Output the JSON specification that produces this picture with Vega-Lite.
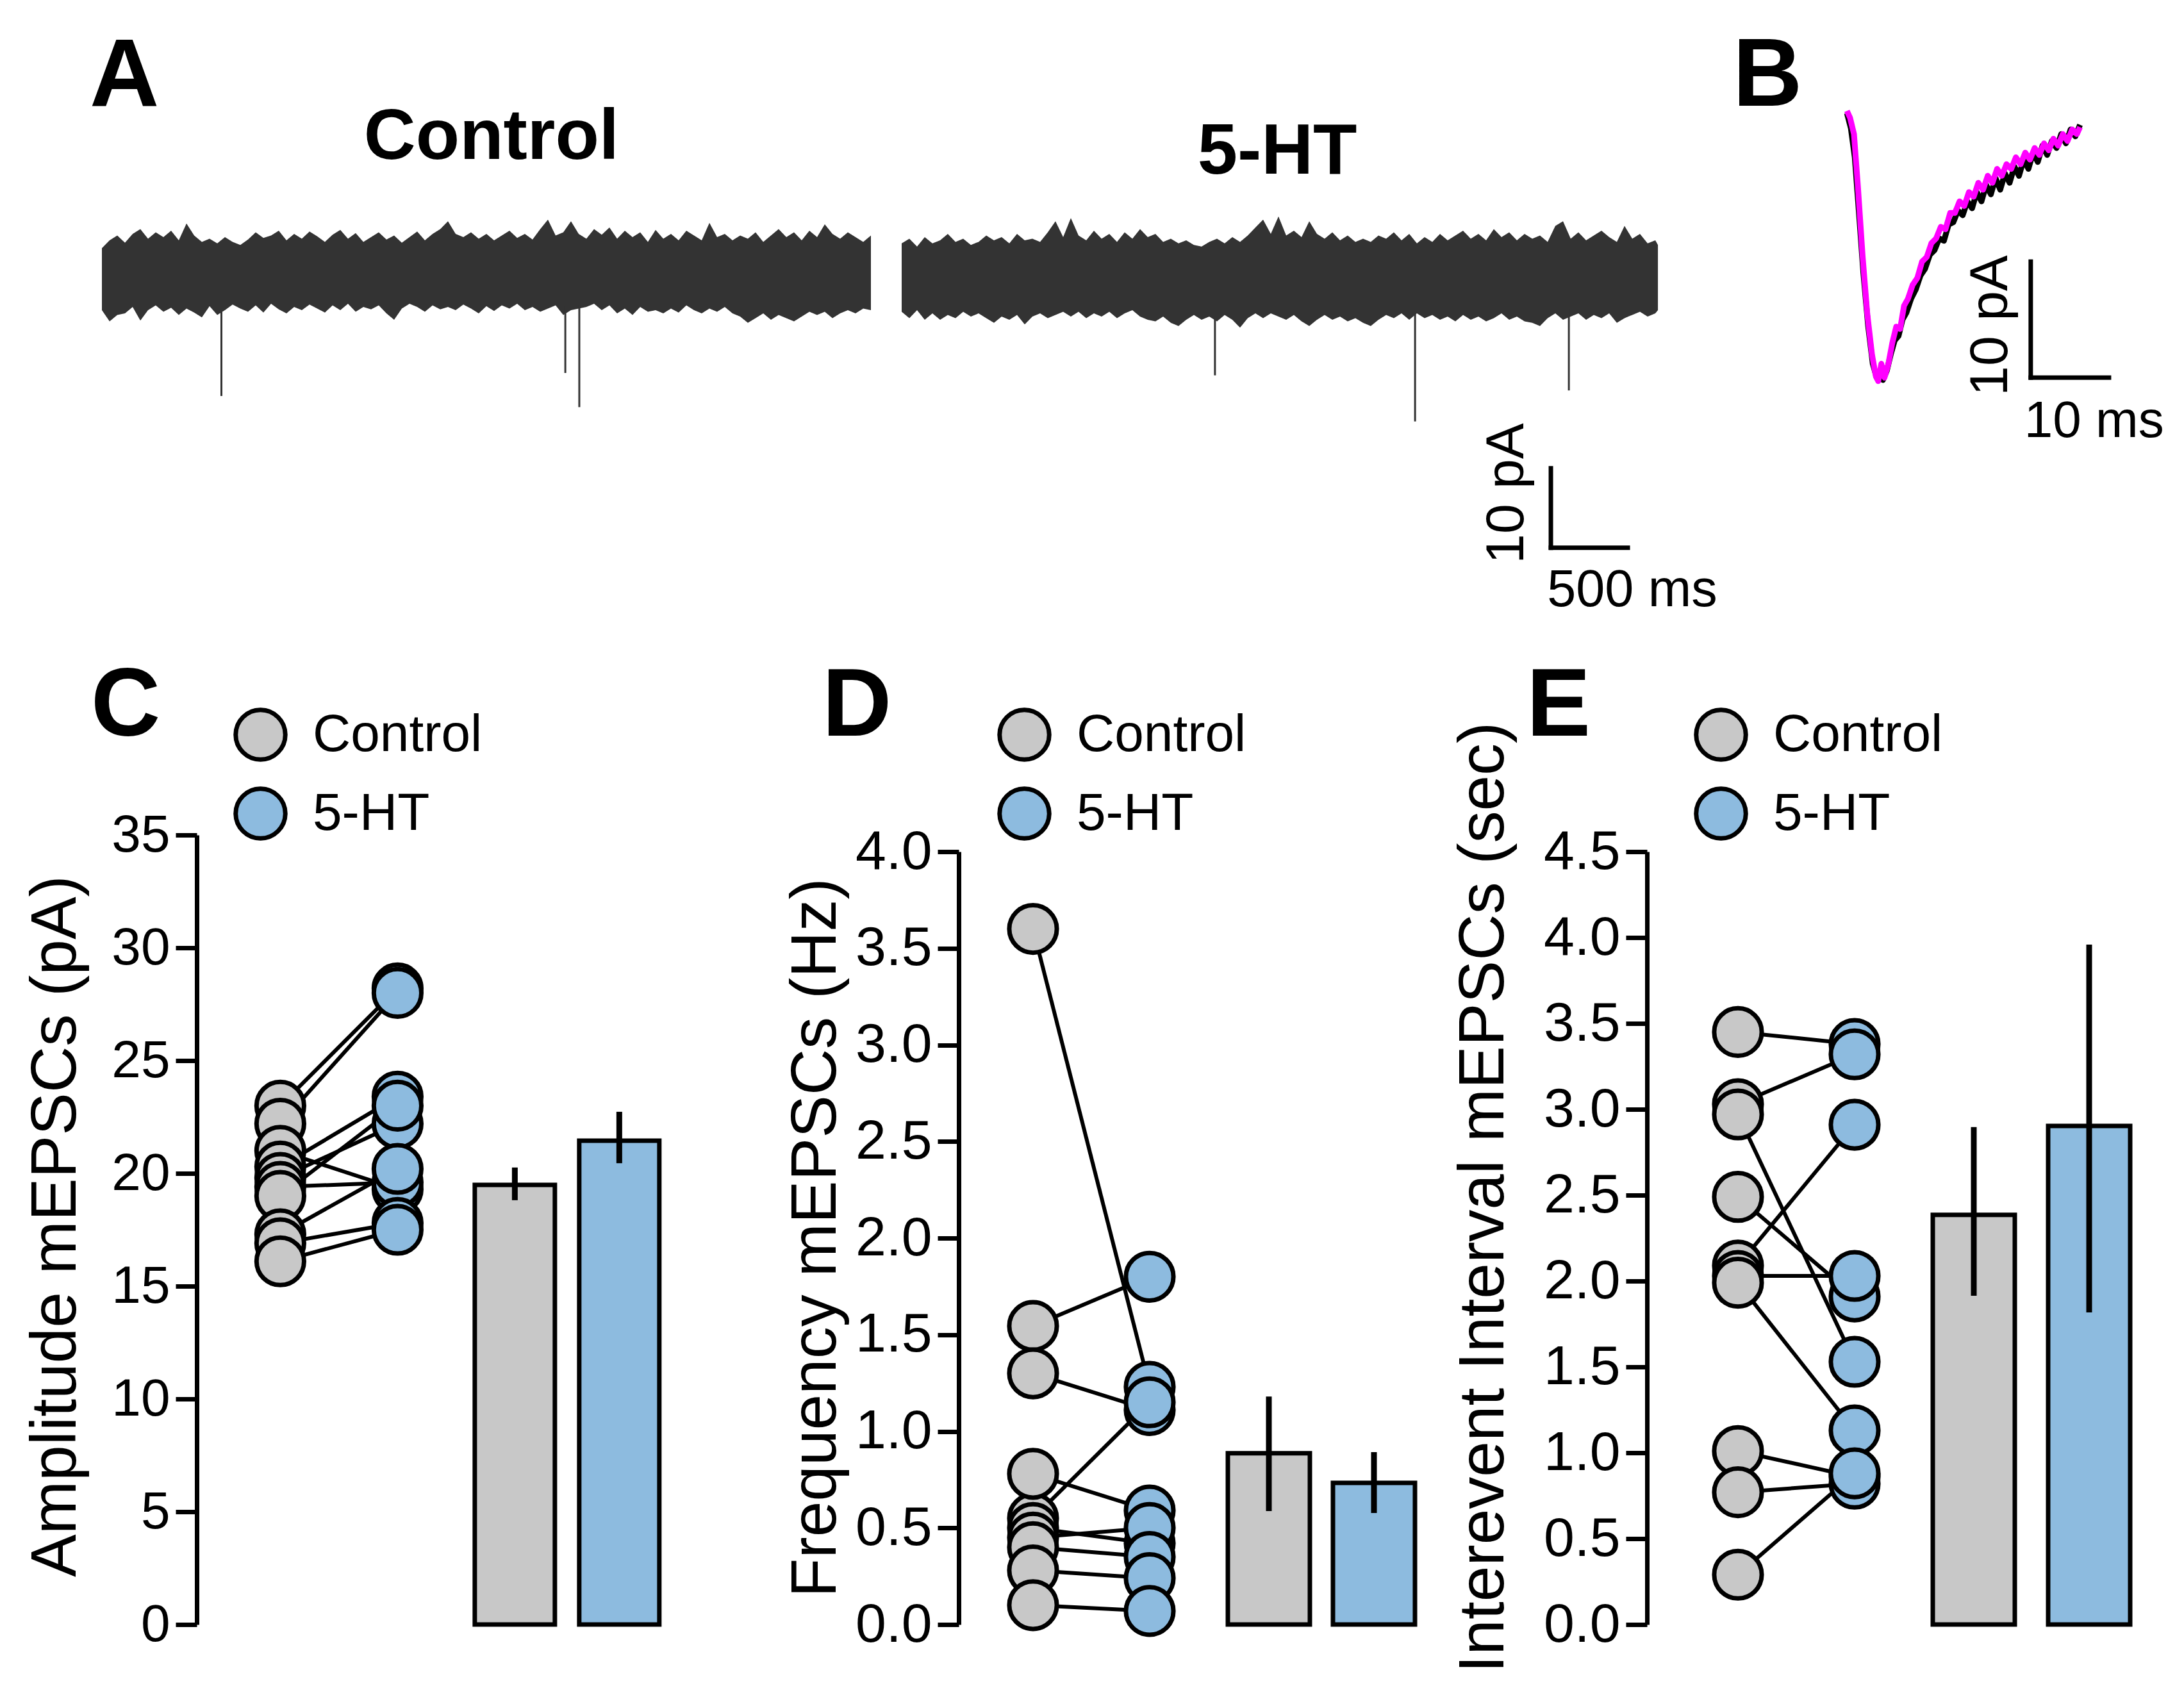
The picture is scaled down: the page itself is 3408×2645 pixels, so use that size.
{
  "$schema": "https://vega.github.io/schema/vega-lite/v6.json",
  "background": "white",
  "padding": {"left": 36, "top": 44, "right": 0, "bottom": 0},
  "config": {
    "view": {"stroke": null},
    "font": "Liberation Sans",
    "axis": {"labelFont": "Liberation Sans", "titleFont": "Liberation Sans", "labelColor": "black", "titleColor": "black", "tickColor": "black", "domainColor": "black", "grid": false, "tickWidth": 7, "domainWidth": 7, "tickSize": 33, "labelPadding": 9, "titleFontWeight": "normal", "titleFontSize": 100, "labelFontSize": 84, "titleLimit": 4000, "labelLimit": 1000, "labelFlush": false, "labelOverlap": false, "titleAngle": 270, "titleBaseline": "alphabetic", "titleAlign": "center"},
    "legend": {"labelFont": "Liberation Sans", "labelFontSize": 82, "labelColor": "black", "symbolType": "circle", "symbolSize": 6000, "symbolStrokeColor": "black", "symbolStrokeWidth": 7, "symbolOpacity": 1, "labelOffset": 39, "rowPadding": 16, "padding": 0, "labelLimit": 1000, "orient": "none", "direction": "vertical"},
    "title": {"font": "Liberation Sans", "color": "black"}
  },
  "resolve": {"scale": {"fill": "independent"}, "legend": {"fill": "independent"}},
  "datasets": {
    "ctrlTrace": [
      {"t":0,"lo":-4.6,"hi":3.2},{"t":50,"lo":-6.0,"hi":4.2},{"t":100,"lo":-5.2,"hi":4.8},{"t":150,"lo":-5.0,"hi":3.9},{"t":200,"lo":-4.2,"hi":5.0},{"t":250,"lo":-5.9,"hi":5.6},{"t":300,"lo":-4.6,"hi":4.4},{"t":350,"lo":-4.0,"hi":5.2},{"t":400,"lo":-4.8,"hi":4.6},{"t":450,"lo":-4.3,"hi":5.4},
      {"t":500,"lo":-5.2,"hi":4.2},{"t":550,"lo":-4.4,"hi":6.3},{"t":600,"lo":-4.9,"hi":4.8},{"t":650,"lo":-5.5,"hi":4.0},{"t":700,"lo":-4.1,"hi":4.4},{"t":750,"lo":-5.2,"hi":3.8},{"t":800,"lo":-4.6,"hi":4.6},{"t":850,"lo":-3.9,"hi":4.0},{"t":900,"lo":-4.4,"hi":3.6},{"t":950,"lo":-4.8,"hi":4.3},
      {"t":1000,"lo":-4.0,"hi":5.2},{"t":1050,"lo":-4.9,"hi":4.5},{"t":1100,"lo":-3.8,"hi":4.8},{"t":1150,"lo":-4.5,"hi":5.4},{"t":1200,"lo":-5.0,"hi":4.2},{"t":1250,"lo":-4.2,"hi":5.0},{"t":1300,"lo":-4.6,"hi":4.4},{"t":1350,"lo":-3.9,"hi":5.3},{"t":1400,"lo":-4.4,"hi":4.7},{"t":1450,"lo":-4.9,"hi":4.0},
      {"t":1500,"lo":-4.0,"hi":4.9},{"t":1550,"lo":-4.6,"hi":5.5},{"t":1600,"lo":-3.8,"hi":4.4},{"t":1650,"lo":-4.8,"hi":5.1},{"t":1700,"lo":-4.2,"hi":4.0},{"t":1750,"lo":-4.5,"hi":4.6},{"t":1800,"lo":-4.0,"hi":5.2},{"t":1850,"lo":-5.0,"hi":4.3},{"t":1900,"lo":-5.8,"hi":4.8},{"t":1950,"lo":-4.4,"hi":3.9},
      {"t":2000,"lo":-3.8,"hi":4.6},{"t":2050,"lo":-4.2,"hi":5.3},{"t":2100,"lo":-4.8,"hi":4.2},{"t":2150,"lo":-4.0,"hi":5.0},{"t":2200,"lo":-4.5,"hi":5.6},{"t":2250,"lo":-4.2,"hi":6.6},{"t":2300,"lo":-4.6,"hi":5.0},{"t":2350,"lo":-3.9,"hi":4.6},{"t":2400,"lo":-4.4,"hi":5.2},{"t":2450,"lo":-5.0,"hi":4.4},
      {"t":2500,"lo":-4.1,"hi":5.0},{"t":2550,"lo":-4.7,"hi":4.2},{"t":2600,"lo":-4.0,"hi":4.8},{"t":2650,"lo":-4.4,"hi":5.4},{"t":2700,"lo":-3.8,"hi":4.5},{"t":2750,"lo":-4.6,"hi":5.0},{"t":2800,"lo":-4.2,"hi":4.3},{"t":2850,"lo":-4.8,"hi":5.6},{"t":2900,"lo":-4.4,"hi":6.8},{"t":2950,"lo":-4.0,"hi":4.8},
      {"t":3000,"lo":-5.2,"hi":5.2},{"t":3050,"lo":-4.6,"hi":6.6},{"t":3100,"lo":-4.4,"hi":5.0},{"t":3150,"lo":-4.2,"hi":4.4},{"t":3200,"lo":-3.8,"hi":5.6},{"t":3250,"lo":-4.6,"hi":4.9},{"t":3300,"lo":-4.0,"hi":5.8},{"t":3350,"lo":-5.0,"hi":4.4},{"t":3400,"lo":-4.4,"hi":5.4},{"t":3450,"lo":-5.2,"hi":4.6},
      {"t":3500,"lo":-4.2,"hi":5.2},{"t":3550,"lo":-4.8,"hi":4.0},{"t":3600,"lo":-4.6,"hi":5.5},{"t":3650,"lo":-5.0,"hi":4.4},{"t":3700,"lo":-4.4,"hi":5.0},{"t":3750,"lo":-4.9,"hi":4.2},{"t":3800,"lo":-4.0,"hi":5.4},{"t":3850,"lo":-4.6,"hi":4.8},{"t":3900,"lo":-5.0,"hi":4.2},{"t":3950,"lo":-4.4,"hi":6.4},
      {"t":4000,"lo":-4.8,"hi":4.6},{"t":4050,"lo":-4.2,"hi":5.0},{"t":4100,"lo":-5.0,"hi":4.2},{"t":4150,"lo":-5.4,"hi":4.8},{"t":4200,"lo":-6.2,"hi":4.4},{"t":4250,"lo":-5.6,"hi":5.2},{"t":4300,"lo":-5.0,"hi":4.0},{"t":4350,"lo":-5.8,"hi":4.8},{"t":4400,"lo":-5.2,"hi":5.6},{"t":4450,"lo":-5.6,"hi":4.6},
      {"t":4500,"lo":-6.0,"hi":5.2},{"t":4550,"lo":-5.4,"hi":4.2},{"t":4600,"lo":-4.8,"hi":5.4},{"t":4650,"lo":-5.2,"hi":4.6},{"t":4700,"lo":-4.8,"hi":6.2},{"t":4750,"lo":-5.6,"hi":5.0},{"t":4800,"lo":-5.0,"hi":4.4},{"t":4850,"lo":-4.6,"hi":5.2},{"t":4900,"lo":-5.0,"hi":4.6},{"t":4950,"lo":-4.4,"hi":4.0},
      {"t":5000,"lo":-4.6,"hi":4.8}
    ],
    "htTrace": [
      {"t":0,"lo":-4.8,"hi":3.8},{"t":50,"lo":-5.6,"hi":4.4},{"t":100,"lo":-4.6,"hi":3.4},{"t":150,"lo":-5.8,"hi":4.6},{"t":200,"lo":-5.0,"hi":3.8},{"t":250,"lo":-5.8,"hi":4.2},{"t":300,"lo":-5.2,"hi":5.0},{"t":350,"lo":-5.6,"hi":4.0},{"t":400,"lo":-4.8,"hi":4.4},{"t":450,"lo":-5.4,"hi":3.6},
      {"t":500,"lo":-5.0,"hi":4.0},{"t":550,"lo":-5.6,"hi":4.8},{"t":600,"lo":-6.2,"hi":4.2},{"t":650,"lo":-5.4,"hi":4.6},{"t":700,"lo":-5.8,"hi":3.8},{"t":750,"lo":-5.2,"hi":5.0},{"t":800,"lo":-6.4,"hi":4.2},{"t":850,"lo":-5.4,"hi":4.4},{"t":900,"lo":-5.0,"hi":4.0},{"t":950,"lo":-5.6,"hi":5.2},
      {"t":1000,"lo":-5.2,"hi":6.6},{"t":1050,"lo":-4.8,"hi":4.6},{"t":1100,"lo":-5.4,"hi":7.0},{"t":1150,"lo":-4.8,"hi":4.8},{"t":1200,"lo":-5.6,"hi":4.2},{"t":1250,"lo":-5.0,"hi":5.4},{"t":1300,"lo":-5.4,"hi":4.4},{"t":1350,"lo":-4.8,"hi":5.0},{"t":1400,"lo":-5.6,"hi":4.0},{"t":1450,"lo":-5.0,"hi":5.2},
      {"t":1500,"lo":-4.6,"hi":4.4},{"t":1550,"lo":-5.4,"hi":5.6},{"t":1600,"lo":-5.8,"hi":4.6},{"t":1650,"lo":-6.0,"hi":5.0},{"t":1700,"lo":-5.4,"hi":4.0},{"t":1750,"lo":-6.2,"hi":4.4},{"t":1800,"lo":-6.6,"hi":3.8},{"t":1850,"lo":-5.8,"hi":4.2},{"t":1900,"lo":-5.2,"hi":3.6},{"t":1950,"lo":-5.8,"hi":3.4},
      {"t":2000,"lo":-5.4,"hi":4.0},{"t":2050,"lo":-6.0,"hi":4.4},{"t":2100,"lo":-5.2,"hi":3.8},{"t":2150,"lo":-5.8,"hi":4.6},{"t":2200,"lo":-6.8,"hi":4.0},{"t":2250,"lo":-5.6,"hi":4.8},{"t":2300,"lo":-5.0,"hi":5.8},{"t":2350,"lo":-5.6,"hi":6.8},{"t":2400,"lo":-5.0,"hi":5.0},{"t":2450,"lo":-5.4,"hi":7.2},
      {"t":2500,"lo":-5.8,"hi":4.8},{"t":2550,"lo":-5.2,"hi":5.4},{"t":2600,"lo":-6.0,"hi":4.6},{"t":2650,"lo":-6.6,"hi":6.6},{"t":2700,"lo":-5.8,"hi":5.0},{"t":2750,"lo":-5.2,"hi":4.4},{"t":2800,"lo":-5.8,"hi":5.2},{"t":2850,"lo":-5.4,"hi":4.2},{"t":2900,"lo":-6.0,"hi":4.8},{"t":2950,"lo":-5.6,"hi":4.0},
      {"t":3000,"lo":-6.2,"hi":4.4},{"t":3050,"lo":-6.6,"hi":4.0},{"t":3100,"lo":-5.8,"hi":4.8},{"t":3150,"lo":-5.2,"hi":4.4},{"t":3200,"lo":-5.6,"hi":5.2},{"t":3250,"lo":-5.0,"hi":4.2},{"t":3300,"lo":-5.8,"hi":5.0},{"t":3350,"lo":-5.0,"hi":3.8},{"t":3400,"lo":-5.6,"hi":4.6},{"t":3450,"lo":-5.2,"hi":4.0},
      {"t":3500,"lo":-5.8,"hi":5.0},{"t":3550,"lo":-5.4,"hi":4.2},{"t":3600,"lo":-6.0,"hi":4.8},{"t":3650,"lo":-5.2,"hi":5.4},{"t":3700,"lo":-5.8,"hi":4.4},{"t":3750,"lo":-5.4,"hi":5.0},{"t":3800,"lo":-6.0,"hi":4.2},{"t":3850,"lo":-5.6,"hi":5.6},{"t":3900,"lo":-5.0,"hi":4.6},{"t":3950,"lo":-5.8,"hi":5.2},
      {"t":4000,"lo":-5.4,"hi":4.2},{"t":4050,"lo":-6.0,"hi":5.0},{"t":4100,"lo":-6.2,"hi":4.4},{"t":4150,"lo":-6.6,"hi":4.8},{"t":4200,"lo":-5.6,"hi":4.0},{"t":4250,"lo":-5.0,"hi":6.0},{"t":4300,"lo":-5.8,"hi":6.6},{"t":4350,"lo":-5.4,"hi":4.4},{"t":4400,"lo":-5.0,"hi":5.2},{"t":4450,"lo":-5.8,"hi":4.2},
      {"t":4500,"lo":-5.2,"hi":4.8},{"t":4550,"lo":-5.6,"hi":5.4},{"t":4600,"lo":-5.0,"hi":4.6},{"t":4650,"lo":-6.2,"hi":4.0},{"t":4700,"lo":-5.6,"hi":6.0},{"t":4750,"lo":-5.2,"hi":4.4},{"t":4800,"lo":-4.8,"hi":5.0},{"t":4850,"lo":-5.4,"hi":3.8},{"t":4900,"lo":-5.0,"hi":4.2},{"t":4917,"lo":-4.6,"hi":3.6}
    ],
    "ctrlSpikes": [
      {"t":777,"v0":-4,"v1":-15.4},{"t":3013,"v0":-4,"v1":-12.5},{"t":3104,"v0":-4,"v1":-16.8}
    ],
    "htSpikes": [
      {"t":2037,"v0":-4.5,"v1":-12.8},{"t":3338,"v0":-4.5,"v1":-18.6},{"t":4338,"v0":-4.5,"v1":-14.7}
    ],
    "bCtrl": [
      {"t":0,"v":-0.2},{"t":0.5,"v":-1.5},{"t":1.0,"v":-4.0},{"t":1.5,"v":-8.5},{"t":2.1,"v":-14.0},{"t":2.7,"v":-18.5},{"t":3.3,"v":-21.8},{"t":3.8,"v":-23.0},{"t":4.2,"v":-22.5},{"t":4.6,"v":-23.2},
      {"t":5.1,"v":-22.4},{"t":5.6,"v":-21.0},{"t":6.1,"v":-19.8},{"t":6.6,"v":-19.4},{"t":7.1,"v":-18.0},{"t":7.6,"v":-17.4},{"t":8.2,"v":-16.2},{"t":8.8,"v":-15.4},{"t":9.4,"v":-14.2},{"t":10.0,"v":-13.6},
      {"t":10.6,"v":-12.4},{"t":11.2,"v":-12.0},{"t":11.8,"v":-11.0},{"t":12.4,"v":-11.2},{"t":13.0,"v":-9.8},{"t":13.6,"v":-9.6},{"t":14.2,"v":-8.6},{"t":14.8,"v":-9.0},{"t":15.4,"v":-7.8},{"t":16.0,"v":-8.4},
      {"t":16.6,"v":-7.0},{"t":17.2,"v":-7.8},{"t":17.8,"v":-6.4},{"t":18.4,"v":-7.2},{"t":19.0,"v":-5.8},{"t":19.6,"v":-6.8},{"t":20.2,"v":-5.4},{"t":20.8,"v":-6.2},{"t":21.4,"v":-4.8},{"t":22.0,"v":-5.6},
      {"t":22.6,"v":-4.2},{"t":23.2,"v":-5.0},{"t":23.8,"v":-3.6},{"t":24.4,"v":-4.4},{"t":25.0,"v":-3.0},{"t":25.6,"v":-3.8},{"t":26.2,"v":-2.6},{"t":26.8,"v":-3.2},{"t":27.4,"v":-2.0},{"t":28.0,"v":-2.8},
      {"t":28.6,"v":-1.6},{"t":29.2,"v":-2.2},{"t":29.8,"v":-1.2}
    ],
    "bHT": [
      {"t":0,"v":0},{"t":0.4,"v":-0.6},{"t":0.9,"v":-2.0},{"t":1.4,"v":-6.5},{"t":2.0,"v":-12.5},{"t":2.6,"v":-17.5},{"t":3.2,"v":-21.0},{"t":3.7,"v":-22.9},{"t":4.0,"v":-23.3},{"t":4.4,"v":-21.8},
      {"t":4.8,"v":-23.0},{"t":5.3,"v":-21.8},{"t":5.8,"v":-20.0},{"t":6.3,"v":-18.6},{"t":6.8,"v":-18.8},{"t":7.3,"v":-16.8},{"t":7.8,"v":-16.2},{"t":8.4,"v":-15.0},{"t":9.0,"v":-14.4},{"t":9.6,"v":-13.0},
      {"t":10.2,"v":-12.6},{"t":10.8,"v":-11.4},{"t":11.4,"v":-11.0},{"t":12.0,"v":-10.0},{"t":12.6,"v":-10.2},{"t":13.2,"v":-8.8},{"t":13.8,"v":-8.8},{"t":14.4,"v":-7.8},{"t":15.0,"v":-8.2},{"t":15.6,"v":-7.0},
      {"t":16.2,"v":-7.4},{"t":16.8,"v":-6.2},{"t":17.4,"v":-6.8},{"t":18.0,"v":-5.6},{"t":18.6,"v":-6.2},{"t":19.2,"v":-5.0},{"t":19.8,"v":-5.6},{"t":20.4,"v":-4.6},{"t":21.0,"v":-5.0},{"t":21.6,"v":-4.0},
      {"t":22.2,"v":-4.6},{"t":22.8,"v":-3.6},{"t":23.4,"v":-4.2},{"t":24.0,"v":-3.2},{"t":24.6,"v":-3.8},{"t":25.2,"v":-2.8},{"t":25.8,"v":-3.4},{"t":26.4,"v":-2.4},{"t":27.0,"v":-3.0},{"t":27.6,"v":-2.0},
      {"t":28.2,"v":-2.6},{"t":28.8,"v":-1.6},{"t":29.4,"v":-2.0},{"t":29.8,"v":-1.4}
    ],
    "ampPairs": [
      {"kind":"cells","cell":1,"cond":"Control","value":23.0},{"kind":"cells","cell":1,"cond":"5-HT","value":28.2},
      {"kind":"cells","cell":2,"cond":"Control","value":22.2},{"kind":"cells","cell":2,"cond":"5-HT","value":28.0},
      {"kind":"cells","cell":3,"cond":"Control","value":21.0},{"kind":"cells","cell":3,"cond":"5-HT","value":19.3},
      {"kind":"cells","cell":4,"cond":"Control","value":20.3},{"kind":"cells","cell":4,"cond":"5-HT","value":23.4},
      {"kind":"cells","cell":5,"cond":"Control","value":19.8},{"kind":"cells","cell":5,"cond":"5-HT","value":22.2},
      {"kind":"cells","cell":6,"cond":"Control","value":19.4},{"kind":"cells","cell":6,"cond":"5-HT","value":19.6},
      {"kind":"cells","cell":7,"cond":"Control","value":19.0},{"kind":"cells","cell":7,"cond":"5-HT","value":23.0},
      {"kind":"cells","cell":8,"cond":"Control","value":17.3},{"kind":"cells","cell":8,"cond":"5-HT","value":20.2},
      {"kind":"cells","cell":9,"cond":"Control","value":16.9},{"kind":"cells","cell":9,"cond":"5-HT","value":17.8},
      {"kind":"cells","cell":10,"cond":"Control","value":16.1},{"kind":"cells","cell":10,"cond":"5-HT","value":17.5}
    ],
    "ampBars": [
      {"kind":"mean","cond":"Control","mean":19.49,"lo":18.81,"hi":20.26},
      {"kind":"mean","cond":"5-HT","mean":21.45,"lo":20.45,"hi":22.73}
    ],
    "freqPairs": [
      {"kind":"cells","cell":1,"cond":"Control","value":3.60},{"kind":"cells","cell":1,"cond":"5-HT","value":1.23},
      {"kind":"cells","cell":2,"cond":"Control","value":1.545},{"kind":"cells","cell":2,"cond":"5-HT","value":1.80},
      {"kind":"cells","cell":3,"cond":"Control","value":1.30},{"kind":"cells","cell":3,"cond":"5-HT","value":1.11},
      {"kind":"cells","cell":4,"cond":"Control","value":0.55},{"kind":"cells","cell":4,"cond":"5-HT","value":1.15},
      {"kind":"cells","cell":5,"cond":"Control","value":0.78},{"kind":"cells","cell":5,"cond":"5-HT","value":0.59},
      {"kind":"cells","cell":6,"cond":"Control","value":0.50},{"kind":"cells","cell":6,"cond":"5-HT","value":0.42},
      {"kind":"cells","cell":7,"cond":"Control","value":0.45},{"kind":"cells","cell":7,"cond":"5-HT","value":0.50},
      {"kind":"cells","cell":8,"cond":"Control","value":0.40},{"kind":"cells","cell":8,"cond":"5-HT","value":0.35},
      {"kind":"cells","cell":9,"cond":"Control","value":0.28},{"kind":"cells","cell":9,"cond":"5-HT","value":0.24},
      {"kind":"cells","cell":10,"cond":"Control","value":0.10},{"kind":"cells","cell":10,"cond":"5-HT","value":0.07}
    ],
    "freqBars": [
      {"kind":"mean","cond":"Control","mean":0.886,"lo":0.587,"hi":1.18},
      {"kind":"mean","cond":"5-HT","mean":0.733,"lo":0.577,"hi":0.892}
    ],
    "iiPairs": [
      {"kind":"cells","cell":1,"cond":"Control","value":3.45},{"kind":"cells","cell":1,"cond":"5-HT","value":3.38},
      {"kind":"cells","cell":2,"cond":"Control","value":3.03},{"kind":"cells","cell":2,"cond":"5-HT","value":3.32},
      {"kind":"cells","cell":3,"cond":"Control","value":2.09},{"kind":"cells","cell":3,"cond":"5-HT","value":2.91},
      {"kind":"cells","cell":4,"cond":"Control","value":2.97},{"kind":"cells","cell":4,"cond":"5-HT","value":1.53},
      {"kind":"cells","cell":5,"cond":"Control","value":2.49},{"kind":"cells","cell":5,"cond":"5-HT","value":1.91},
      {"kind":"cells","cell":6,"cond":"Control","value":2.03},{"kind":"cells","cell":6,"cond":"5-HT","value":2.03},
      {"kind":"cells","cell":7,"cond":"Control","value":1.99},{"kind":"cells","cell":7,"cond":"5-HT","value":1.13},
      {"kind":"cells","cell":8,"cond":"Control","value":1.01},{"kind":"cells","cell":8,"cond":"5-HT","value":0.86},
      {"kind":"cells","cell":9,"cond":"Control","value":0.77},{"kind":"cells","cell":9,"cond":"5-HT","value":0.82},
      {"kind":"cells","cell":10,"cond":"Control","value":0.29},{"kind":"cells","cell":10,"cond":"5-HT","value":0.88}
    ],
    "iiBars": [
      {"kind":"mean","cond":"Control","mean":2.385,"lo":1.914,"hi":2.896},
      {"kind":"mean","cond":"5-HT","mean":2.903,"lo":1.817,"hi":3.959}
    ]
  },
  "columns": 3,
  "align": "each",
  "bounds": "flush",
  "spacing": {"row": 430, "column": 0},
  "concat": [
    {
      "width": 1248, "height": 710,
      "layer": [
        {"data": {"name": "ctrlTrace"}, "mark": {"type": "area", "color": "#333333", "opacity": 1},
         "encoding": {"x": {"field": "t", "type": "quantitative", "scale": {"domain": [0, 5200], "nice": false, "zero": false}, "axis": null},
                      "y": {"field": "lo", "type": "quantitative", "scale": {"domain": [-35.97, 21.29], "nice": false, "zero": false}, "axis": null},
                      "y2": {"field": "hi"}}},
        {"data": {"name": "ctrlSpikes"}, "mark": {"type": "rule", "color": "#333333", "strokeWidth": 3},
         "encoding": {"x": {"field": "t", "type": "quantitative"}, "y": {"field": "v0", "type": "quantitative"}, "y2": {"field": "v1"}}},
        {"data": {"values": [{"label": "Control"}]}, "mark": {"type": "text", "fontSize": 112, "fontWeight": "bold", "align": "center", "baseline": "alphabetic", "color": "black"},
         "encoding": {"x": {"datum": 2533}, "y": {"datum": 14.4}, "text": {"field": "label"}}},
        {"data": {"values": [{"label": "A"}]}, "mark": {"type": "text", "fontSize": 150, "fontWeight": "bold", "align": "left", "baseline": "alphabetic", "color": "black"},
         "encoding": {"x": {"datum": -79}, "y": {"datum": 21.13}, "text": {"field": "label"}}}
      ]
    },
    {
      "width": 1163, "height": 710,
      "layer": [
        {"data": {"name": "htTrace"}, "mark": {"type": "area", "color": "#333333", "opacity": 1},
         "encoding": {"x": {"field": "t", "type": "quantitative", "scale": {"domain": [0, 4845.8], "nice": false, "zero": false}, "axis": null},
                      "y": {"field": "lo", "type": "quantitative", "scale": {"domain": [-35.97, 21.29], "nice": false, "zero": false}, "axis": null},
                      "y2": {"field": "hi"}}},
        {"data": {"name": "htSpikes"}, "mark": {"type": "rule", "color": "#333333", "strokeWidth": 3},
         "encoding": {"x": {"field": "t", "type": "quantitative"}, "y": {"field": "v0", "type": "quantitative"}, "y2": {"field": "v1"}}},
        {"data": {"values": [{"label": "5-HT"}]}, "mark": {"type": "text", "fontSize": 112, "fontWeight": "bold", "align": "center", "baseline": "alphabetic", "color": "black"},
         "encoding": {"x": {"datum": 2442}, "y": {"datum": 12.58}, "text": {"field": "label"}}},
        {"data": {"values": [{}]}, "mark": {"type": "rule", "color": "black", "strokeWidth": 7, "strokeCap": "square"},
         "encoding": {"x": {"datum": 4221}, "y": {"datum": -24.5}, "y2": {"datum": -34.5}}},
        {"data": {"values": [{}]}, "mark": {"type": "rule", "color": "black", "strokeWidth": 7, "strokeCap": "square"},
         "encoding": {"x": {"datum": 4221}, "x2": {"datum": 4721}, "y": {"datum": -34.5}}},
        {"data": {"values": [{"label": "10 pA"}]}, "mark": {"type": "text", "fontSize": 84, "angle": 270, "align": "center", "baseline": "alphabetic", "color": "black"},
         "encoding": {"x": {"datum": 4042}, "y": {"datum": -27.66}, "text": {"field": "label"}}},
        {"data": {"values": [{"label": "500 ms"}]}, "mark": {"type": "text", "fontSize": 81, "align": "center", "baseline": "alphabetic", "color": "black"},
         "encoding": {"x": {"datum": 4750}, "y": {"datum": -41.85}, "text": {"field": "label"}}}
      ]
    },
    {
      "width": 727, "height": 710,
      "layer": [
        {"data": {"name": "bCtrl"}, "mark": {"type": "line", "color": "#000000", "strokeWidth": 9, "strokeJoin": "round"},
         "encoding": {"x": {"field": "t", "type": "quantitative", "scale": {"domain": [-25.57, 34], "nice": false, "zero": false}, "axis": null},
                      "y": {"field": "v", "type": "quantitative", "scale": {"domain": [-38.67, 0.552], "nice": false, "zero": false}, "axis": null}}},
        {"data": {"name": "bHT"}, "mark": {"type": "line", "color": "#ff00ff", "strokeWidth": 9, "strokeJoin": "round"},
         "encoding": {"x": {"field": "t", "type": "quantitative"}, "y": {"field": "v", "type": "quantitative"}}},
        {"data": {"values": [{}]}, "mark": {"type": "rule", "color": "black", "strokeWidth": 7, "strokeCap": "square"},
         "encoding": {"x": {"datum": 23.5}, "y": {"datum": -13.0}, "y2": {"datum": -23.0}}},
        {"data": {"values": [{}]}, "mark": {"type": "rule", "color": "black", "strokeWidth": 7, "strokeCap": "square"},
         "encoding": {"x": {"datum": 23.5}, "x2": {"datum": 33.5}, "y": {"datum": -23.0}}},
        {"data": {"values": [{"label": "10 pA"}]}, "mark": {"type": "text", "fontSize": 84, "angle": 270, "align": "center", "baseline": "alphabetic", "color": "black"},
         "encoding": {"x": {"datum": 20.5}, "y": {"datum": -18.5}, "text": {"field": "label"}}},
        {"data": {"values": [{"label": "10 ms"}]}, "mark": {"type": "text", "fontSize": 80, "align": "center", "baseline": "alphabetic", "color": "black"},
         "encoding": {"x": {"datum": 31.6}, "y": {"datum": -28.1}, "text": {"field": "label"}}},
        {"data": {"values": [{"label": "B"}]}, "mark": {"type": "text", "fontSize": 150, "fontWeight": "bold", "align": "left", "baseline": "alphabetic", "color": "black"},
         "encoding": {"x": {"datum": -14.6}, "y": {"datum": 0.44}, "text": {"field": "label"}}}
      ]
    },
    {
      "width": 1248, "height": 1232,
      "title": {"text": "C", "anchor": "start", "frame": "group", "fontSize": 150, "fontWeight": "bold", "color": "black", "offset": 0, "dx": -17, "dy": 194, "baseline": "alphabetic"},
      "layer": [
        {"data": {"name": "ampPairs"},
         "layer": [
           {"mark": {"type": "line", "color": "black", "strokeWidth": 6},
            "encoding": {"x": {"field": "kind", "type": "nominal", "scale": {"type": "band", "domain": ["cells", "mean"], "paddingInner": 0, "paddingOuter": 0.753, "align": 0.358, "round": false}, "axis": null},
                         "xOffset": {"field": "cond", "type": "nominal", "scale": {"type": "band", "domain": ["Control", "5-HT"], "paddingInner": 0.055, "paddingOuter": 0, "round": false}},
                         "y": {"field": "value", "type": "quantitative", "scale": {"domain": [0, 35], "nice": false, "zero": true},
                               "axis": {"values": [0, 5, 10, 15, 20, 25, 30, 35], "title": "Amplitude mEPSCs (pA)", "offset": -148, "titleX": -190, "titleY": 610, "labelFontSize": 82}},
                         "detail": {"field": "cell", "type": "nominal"}}},
           {"mark": {"type": "circle", "size": 5500, "stroke": "black", "strokeWidth": 7, "opacity": 1},
            "encoding": {"x": {"field": "kind", "type": "nominal"},
                         "xOffset": {"field": "cond", "type": "nominal"},
                         "y": {"field": "value", "type": "quantitative"},
                         "fill": {"field": "cond", "type": "nominal", "scale": {"domain": ["Control", "5-HT"], "range": ["#c8c8c8", "#8dbbdf"]},
                                  "legend": {"title": null, "orient": "none", "legendX": 205, "legendY": -199, "symbolType": "circle"}}}}
         ]},
        {"data": {"name": "ampBars"},
         "layer": [
           {"mark": {"type": "bar", "stroke": "black", "strokeWidth": 7},
            "encoding": {"x": {"field": "kind", "type": "nominal"},
                         "xOffset": {"field": "cond", "type": "nominal", "scale": {"type": "band", "domain": ["Control", "5-HT"], "paddingInner": 0.2331, "paddingOuter": 0.2086, "round": false}},
                         "y": {"field": "mean", "type": "quantitative"},
                         "fill": {"field": "cond", "type": "nominal", "legend": {"title": null, "orient": "none", "legendX": 205, "legendY": -199, "symbolType": "circle"}}}},
           {"mark": {"type": "rule", "color": "black", "strokeWidth": 9},
            "encoding": {"x": {"field": "kind", "type": "nominal"}, "xOffset": {"field": "cond", "type": "nominal"}, "y": {"field": "lo", "type": "quantitative"}, "y2": {"field": "hi"}}}
         ]}
      ],
      "resolve": {"scale": {"xOffset": "independent"}}
    },
    {
      "width": 1163, "height": 1232,
      "title": {"text": "D", "anchor": "start", "frame": "group", "fontSize": 150, "fontWeight": "bold", "color": "black", "offset": 0, "dx": -124, "dy": 194, "baseline": "alphabetic"},
      "layer": [
        {"data": {"name": "freqPairs"},
         "layer": [
           {"mark": {"type": "line", "color": "black", "strokeWidth": 6},
            "encoding": {"x": {"field": "kind", "type": "nominal", "scale": {"type": "band", "domain": ["cells", "mean"], "paddingInner": 0, "paddingOuter": 0.6198, "align": 0.2618, "round": false}, "axis": null},
                         "xOffset": {"field": "cond", "type": "nominal", "scale": {"type": "band", "domain": ["Control", "5-HT"], "paddingInner": 0.0275, "paddingOuter": 0, "round": false}},
                         "y": {"field": "value", "type": "quantitative", "scale": {"domain": [0, 4], "nice": false, "zero": true, "rangeMax": 26},
                               "axis": {"values": [0, 0.5, 1, 1.5, 2, 2.5, 3, 3.5, 4], "format": ".1f", "title": "Frequency mEPSCs (Hz)", "offset": -89, "titleX": -193, "titleY": 628, "labelFontSize": 86}},
                         "detail": {"field": "cell", "type": "nominal"}}},
           {"mark": {"type": "circle", "size": 5500, "stroke": "black", "strokeWidth": 7, "opacity": 1},
            "encoding": {"x": {"field": "kind", "type": "nominal"},
                         "xOffset": {"field": "cond", "type": "nominal"},
                         "y": {"field": "value", "type": "quantitative"},
                         "fill": {"field": "cond", "type": "nominal", "scale": {"domain": ["Control", "5-HT"], "range": ["#c8c8c8", "#8dbbdf"]},
                                  "legend": {"title": null, "orient": "none", "legendX": 149, "legendY": -199, "symbolType": "circle"}}}}
         ]},
        {"data": {"name": "freqBars"},
         "layer": [
           {"mark": {"type": "bar", "stroke": "black", "strokeWidth": 7},
            "encoding": {"x": {"field": "kind", "type": "nominal"},
                         "xOffset": {"field": "cond", "type": "nominal", "scale": {"type": "band", "domain": ["Control", "5-HT"], "paddingInner": 0.2195, "paddingOuter": 0.2043, "round": false}},
                         "y": {"field": "mean", "type": "quantitative"},
                         "fill": {"field": "cond", "type": "nominal", "legend": {"title": null, "orient": "none", "legendX": 149, "legendY": -199, "symbolType": "circle"}}}},
           {"mark": {"type": "rule", "color": "black", "strokeWidth": 9},
            "encoding": {"x": {"field": "kind", "type": "nominal"}, "xOffset": {"field": "cond", "type": "nominal"}, "y": {"field": "lo", "type": "quantitative"}, "y2": {"field": "hi"}}}
         ]}
      ],
      "resolve": {"scale": {"xOffset": "independent"}}
    },
    {
      "width": 800, "height": 1232,
      "title": {"text": "E", "anchor": "start", "frame": "group", "fontSize": 150, "fontWeight": "bold", "color": "black", "offset": 0, "dx": -188, "dy": 194, "baseline": "alphabetic"},
      "layer": [
        {"data": {"name": "iiPairs"},
         "layer": [
           {"mark": {"type": "line", "color": "black", "strokeWidth": 6},
            "encoding": {"x": {"field": "kind", "type": "nominal", "scale": {"type": "band", "domain": ["cells", "mean"], "paddingInner": 0, "paddingOuter": 0.0899, "align": 0.75, "round": false}, "axis": null},
                         "xOffset": {"field": "cond", "type": "nominal", "scale": {"type": "band", "domain": ["Control", "5-HT"], "paddingInner": 0, "paddingOuter": 0.0082, "round": false}},
                         "y": {"field": "value", "type": "quantitative", "scale": {"domain": [0, 4.5], "nice": false, "zero": true, "rangeMax": 26},
                               "axis": {"values": [0, 0.5, 1, 1.5, 2, 2.5, 3, 3.5, 4, 4.5], "format": ".1f", "title": "Interevent Interval mEPSCs (sec)", "titleX": -225, "titleY": 565, "labelFontSize": 86}},
                         "detail": {"field": "cell", "type": "nominal"}}},
           {"mark": {"type": "circle", "size": 5500, "stroke": "black", "strokeWidth": 7, "opacity": 1},
            "encoding": {"x": {"field": "kind", "type": "nominal"},
                         "xOffset": {"field": "cond", "type": "nominal"},
                         "y": {"field": "value", "type": "quantitative"},
                         "fill": {"field": "cond", "type": "nominal", "scale": {"domain": ["Control", "5-HT"], "range": ["#c8c8c8", "#8dbbdf"]},
                                  "legend": {"title": null, "orient": "none", "legendX": 73, "legendY": -199, "symbolType": "circle"}}}}
         ]},
        {"data": {"name": "iiBars"},
         "layer": [
           {"mark": {"type": "bar", "stroke": "black", "strokeWidth": 7},
            "encoding": {"x": {"field": "kind", "type": "nominal"},
                         "xOffset": {"field": "cond", "type": "nominal", "scale": {"type": "band", "domain": ["Control", "5-HT"], "paddingInner": 0.2889, "paddingOuter": 0.1639, "round": false}},
                         "y": {"field": "mean", "type": "quantitative"},
                         "fill": {"field": "cond", "type": "nominal", "legend": {"title": null, "orient": "none", "legendX": 73, "legendY": -199, "symbolType": "circle"}}}},
           {"mark": {"type": "rule", "color": "black", "strokeWidth": 9},
            "encoding": {"x": {"field": "kind", "type": "nominal"}, "xOffset": {"field": "cond", "type": "nominal"}, "y": {"field": "lo", "type": "quantitative"}, "y2": {"field": "hi"}}}
         ]}
      ],
      "resolve": {"scale": {"xOffset": "independent"}}
    }
  ]
}
